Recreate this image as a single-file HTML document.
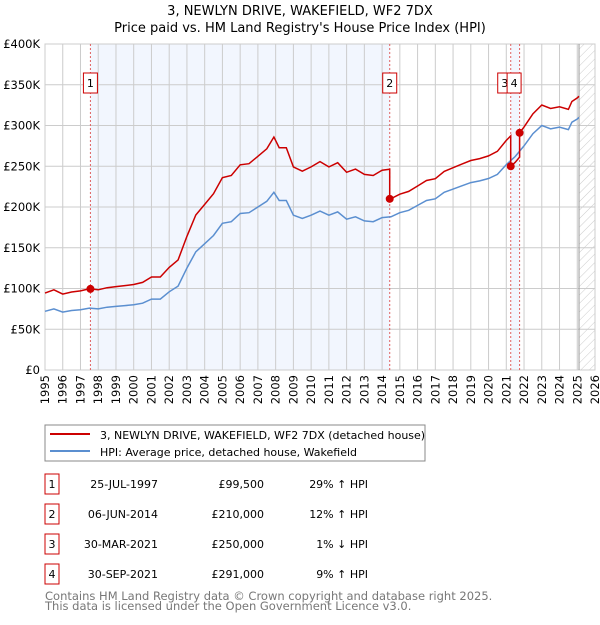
<!DOCTYPE html>
<html><head><meta charset="utf-8"><style>
body{margin:0;background:#fff;font-family:"Liberation Sans","DejaVu Sans",sans-serif}
svg text{font-family:"DejaVu Sans","Liberation Sans",sans-serif}
</style></head><body>
<svg id="c" width="600" height="620" xmlns="http://www.w3.org/2000/svg">
<defs><pattern id="hatch" width="6" height="6" patternUnits="userSpaceOnUse" patternTransform="rotate(45)"><line x1="0" y1="0" x2="0" y2="6" stroke="#ccc" stroke-width="1"/></pattern></defs>
<text x="300" y="15" text-anchor="middle" font-size="13">3, NEWLYN DRIVE, WAKEFIELD, WF2 7DX</text>
<text x="300" y="32" text-anchor="middle" font-size="13">Price paid vs. HM Land Registry's House Price Index (HPI)</text>
<g id="plot"></g>
<rect x="45" y="425" width="380" height="36" fill="#fff" stroke="#888"/>
<line x1="50" y1="434" x2="90" y2="434" stroke="#cc0000" stroke-width="2"/>
<text x="100" y="439" font-size="11">3, NEWLYN DRIVE, WAKEFIELD, WF2 7DX (detached house)</text>
<line x1="50" y1="451" x2="90" y2="451" stroke="#5b8fd0" stroke-width="2"/>
<text x="100" y="456" font-size="11">HPI: Average price, detached house, Wakefield</text>
<g id="table" font-size="11"></g>
<text x="45" y="600" font-size="11.5" fill="#777">Contains HM Land Registry data © Crown copyright and database right 2025.</text>
<text x="45" y="610" font-size="11.5" fill="#777">This data is licensed under the Open Government Licence v3.0.</text>
</svg>
<script>
const yearTicks=[1995,1996,1997,1998,1999,2000,2001,2002,2003,2004,2005,2006,2007,2008,2009,2010,2011,2012,2013,2014,2015,2016,2017,2018,2019,2020,2021,2022,2023,2024,2025,2026];
const valueTicks=[0,50,100,150,200,250,300,350,400];
const valueLabels=["£0","£50K","£100K","£150K","£200K","£250K","£300K","£350K","£400K"];
const hpiT=[1995,1995.5,1996,1996.5,1997,1997.5,1998,1998.5,1999,1999.5,2000,2000.5,2001,2001.5,2002,2002.5,2003,2003.5,2004,2004.5,2005,2005.5,2006,2006.5,2007,2007.5,2007.9,2008.2,2008.6,2009,2009.5,2010,2010.5,2011,2011.5,2012,2012.5,2013,2013.5,2014,2014.5,2015,2015.5,2016,2016.5,2017,2017.5,2018,2018.5,2019,2019.5,2020,2020.5,2021,2021.5,2022,2022.5,2023,2023.5,2024,2024.5,2024.7,2025,2025.1];
const hpiV=[72,75,71,73,74,76,75,77,78,79,80,82,87,87,96,103,125,145,155,165,180,182,192,193,200,207,218,208,208,190,186,190,195,190,194,185,188,183,182,187,188,193,196,202,208,210,218,222,226,230,232,235,240,252,262,275,290,300,296,298,295,304,308,310];
const saleT=[1997.56,2014.43,2021.25,2021.75];
const saleV=[99.5,210,250,291];
const saleLabel=["1","2","3","4"];
const saleDate=["25-JUL-1997","06-JUN-2014","30-MAR-2021","30-SEP-2021"];
const salePrice=["£99,500","£210,000","£250,000","£291,000"];
const saleHpi=["29% ↑ HPI","12% ↑ HPI","1% ↓ HPI","9% ↑ HPI"];
const X0=45,X1=595,Y0=370,Y1=44;
const xs=t=>X0+(t-1995)*(X1-X0)/31;
const ys=v=>Y0-v*(Y0-Y1)/400;
const NS="http://www.w3.org/2000/svg";
const plot=document.getElementById('plot');
function mk(tag,a,p){const e=document.createElementNS(NS,tag);for(const k in a)e.setAttribute(k,a[k]);(p||plot).appendChild(e);return e;}
function hpiAt(t){for(let i=0;i<hpiT.length-1;i++){if(t<=hpiT[i+1]){const f=(t-hpiT[i])/(hpiT[i+1]-hpiT[i]);return hpiV[i]+f*(hpiV[i+1]-hpiV[i]);}}return hpiV[hpiV.length-1];}
let s=mk('rect',{x:xs(saleT[0]),y:Y1,width:xs(saleT[1])-xs(saleT[0]),height:Y0-Y1,fill:'#f2f6fe'});


s=mk('rect',{x:xs(saleT[2]),y:Y1,width:xs(saleT[3])-xs(saleT[2]),height:Y0-Y1,fill:'#f2f6fe'});


const lastT=hpiT[hpiT.length-1];
s=mk('rect',{x:xs(lastT),y:Y1,width:X1-xs(lastT),height:Y0-Y1,fill:'url(#hatch)'});


yearTicks.forEach(y=>{const l=mk('line',{x1:xs(y),x2:xs(y),y1:Y1,y2:Y0,stroke:'#ccc'});


const t=mk('text',{transform:`translate(${xs(y)+4},${Y0+5}) rotate(-90)`,'text-anchor':'end','font-size':11.5});t.textContent=y;

});
valueTicks.forEach((v,i)=>{const l=mk('line',{x1:X0,x2:X1,y1:ys(v),y2:ys(v),stroke:'#ccc'});


const t=mk('text',{x:40,y:ys(v)+4,'text-anchor':'end','font-size':11.5});t.textContent=valueLabels[i];

});
const bd=mk('rect',{x:X0,y:Y1,width:X1-X0,height:Y0-Y1,fill:'none',stroke:'#ccc'});


const nl=mk('line',{x1:xs(lastT),x2:xs(lastT),y1:Y1,y2:Y0,stroke:'#999'});


saleT.forEach((t,i)=>{const l=mk('line',{x1:xs(t),x2:xs(t),y1:Y1,y2:Y0,stroke:'#e06060','stroke-dasharray':'2,2'});

});
let d='';hpiT.forEach((t,i)=>{d+=(i?'L':'M')+xs(t).toFixed(1)+','+ys(hpiV[i]).toFixed(1);});
const hl=mk('path',{d:d,fill:'none',stroke:'#5b8fd0','stroke-width':1.5});


let pd='';let pts=[];
const r0=saleV[0]/hpiAt(saleT[0]);
hpiT.forEach((t,i)=>{let k=-1;for(let j=0;j<saleT.length;j++)if(t>=saleT[j])k=j;const r=k<0?r0:saleV[k]/hpiAt(saleT[k]);pts.push([t,hpiV[i]*r]);});
saleT.forEach((t,k)=>{const prev=k===0?r0:saleV[k-1]/hpiAt(saleT[k-1]);pts.push([t-0.001,hpiAt(t)*prev]);pts.push([t,saleV[k]]);});
pts.sort((a,b)=>a[0]-b[0]);
pts.forEach((p,i)=>{pd+=(i?'L':'M')+xs(p[0]).toFixed(1)+','+ys(p[1]).toFixed(1);});
const pl=mk('path',{d:pd,fill:'none',stroke:'#cc0000','stroke-width':1.5});


saleT.forEach((t,i)=>{const c=mk('circle',{cx:xs(t),cy:ys(saleV[i]),r:4,fill:'#cc0000'});


const bx=i===2?xs(t)-13:(i===3?xs(t)-12.5:xs(t)-7);
const g=mk('g',{});


mk('rect',{x:bx,y:73,width:14,height:20,fill:'#fff',stroke:'#cc0000'},g);
const tx=mk('text',{x:bx+7,y:87,'text-anchor':'middle','font-size':11},g);tx.textContent=saleLabel[i];});
const tb=document.getElementById('table');
saleT.forEach((t,i)=>{const y=483+i*30;
const g=mk('g',{},tb);


mk('rect',{x:45,y:y-9,width:14,height:20,fill:'#fff',stroke:'#cc0000'},g);
let e=mk('text',{x:52,y:y+5,'text-anchor':'middle'},g);e.textContent=saleLabel[i];
e=mk('text',{x:158,y:y+5,'text-anchor':'end'},g);e.textContent=saleDate[i];
e=mk('text',{x:264,y:y+5,'text-anchor':'end'},g);e.textContent=salePrice[i];
e=mk('text',{x:368,y:y+5,'text-anchor':'end'},g);e.textContent=saleHpi[i];});
</script>
</body></html>
